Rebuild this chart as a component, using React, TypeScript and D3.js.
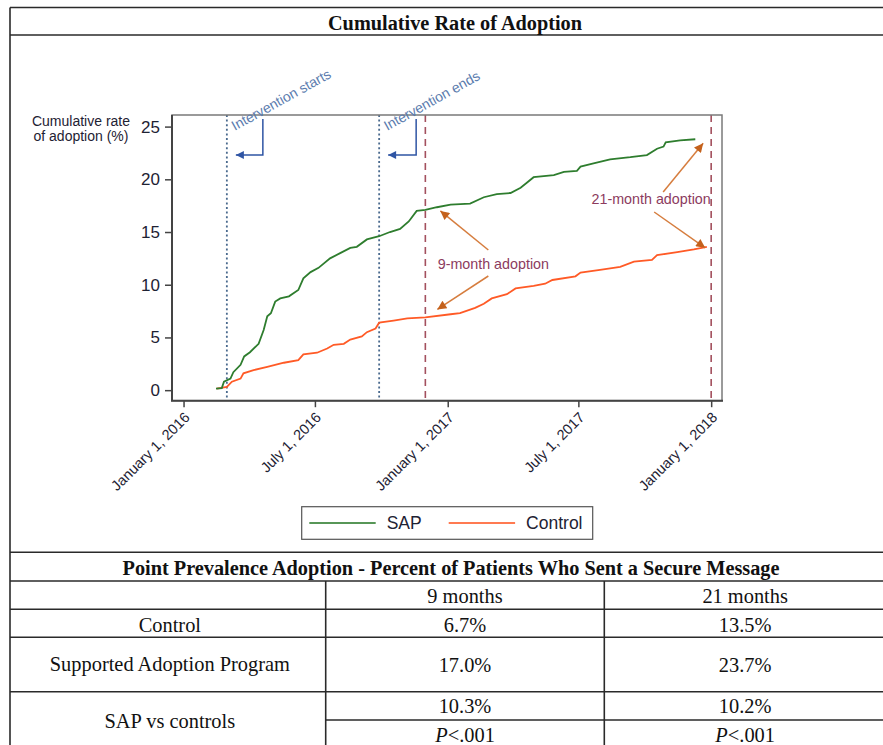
import React, { useEffect, useRef } from "react";
import * as d3 from "d3";

// cumulative adoption curves
const sapDates = [
  "2016-02-15", "2016-02-23", "2016-02-26", "2016-03-06", "2016-03-10", "2016-03-20", "2016-03-25",
  "2016-04-02", "2016-04-14", "2016-04-21", "2016-04-26", "2016-05-01", "2016-05-07", "2016-05-14",
  "2016-05-26", "2016-06-08", "2016-06-15", "2016-06-25", "2016-07-06", "2016-07-22", "2016-08-05",
  "2016-08-19", "2016-08-28", "2016-09-11", "2016-09-28", "2016-10-13", "2016-10-27", "2016-11-08",
  "2016-11-19", "2016-12-01", "2016-12-17", "2017-01-05", "2017-02-01", "2017-02-20", "2017-03-10",
  "2017-03-29", "2017-04-12", "2017-04-21", "2017-04-30", "2017-05-28", "2017-06-11", "2017-06-29",
  "2017-07-04", "2017-07-22", "2017-08-14", "2017-09-11", "2017-10-04", "2017-10-18", "2017-10-27",
  "2017-10-30", "2017-11-19", "2017-12-10",
];
const sapValues = [
  0.15, 0.2, 0.8, 1.1, 1.7, 2.4, 3.2,
  3.6, 4.4, 5.7, 7.0, 7.3, 8.4, 8.7,
  8.9, 9.5, 10.6, 11.2, 11.6, 12.5, 13.0,
  13.5, 13.6, 14.3, 14.6, 15.0, 15.3, 16.0,
  17.0, 17.1, 17.35, 17.6, 17.7, 18.3, 18.6,
  18.7, 19.2, 19.7, 20.2, 20.4, 20.7, 20.8,
  21.2, 21.5, 21.9, 22.1, 22.3, 22.9, 23.1,
  23.5, 23.7, 23.8,
];
const controlDates = [
  "2016-02-16", "2016-03-01", "2016-03-08", "2016-03-20", "2016-03-24", "2016-04-07", "2016-04-26",
  "2016-05-19", "2016-06-08", "2016-06-15", "2016-07-04", "2016-07-18", "2016-07-27", "2016-08-10",
  "2016-08-19", "2016-09-04", "2016-09-11", "2016-09-23", "2016-09-28", "2016-10-18", "2016-11-06",
  "2016-12-01", "2017-01-05", "2017-01-18", "2017-02-08", "2017-02-20", "2017-03-03", "2017-03-24",
  "2017-04-05", "2017-04-30", "2017-05-16", "2017-05-26", "2017-06-27", "2017-07-04", "2017-07-31",
  "2017-08-28", "2017-09-16", "2017-10-11", "2017-10-18", "2017-11-15", "2017-12-08", "2017-12-26",
];
const controlValues = [
  0.15, 0.3, 0.8, 1.1, 1.6, 1.9, 2.2,
  2.6, 2.85, 3.4, 3.55, 3.95, 4.3, 4.4,
  4.8, 5.1, 5.5, 5.85, 6.4, 6.6, 6.8,
  6.9, 7.2, 7.3, 7.8, 8.2, 8.7, 9.1,
  9.65, 9.9, 10.1, 10.45, 10.8, 11.15, 11.4,
  11.7, 12.2, 12.35, 12.8, 13.1, 13.35, 13.6,
];

const yTicks = [0, 5, 10, 15, 20, 25];
const xTickDates = ["2016-01-01", "2016-07-01", "2017-01-01", "2017-07-01", "2018-01-01"];
const interventionDates = ["2016-03-01", "2016-09-28"];
const interventionLabels = ["Intervention starts", "Intervention ends"];
const adoptionDates = ["2016-12-01", "2018-01-01"];
const adoptionLabels = ["9-month adoption", "21-month adoption"];
const seriesNames = ["SAP", "Control"];

// table
const tableTitle = "Point Prevalence Adoption - Percent of Patients Who Sent a Secure Message";
const tableCols = ["9 months", "21 months"];
const controlPct = ["6.7%", "13.5%"];
const sapPct = ["17.0%", "23.7%"];
const diffPct = ["10.3%", "10.2%"];
const pValues = ["<.001", "<.001"];

const SANS = "'Liberation Sans', Arial, sans-serif";
const SERIF = "'Liberation Serif', 'Times New Roman', serif";
const GREEN = "#2e7d2e";
const ORANGE = "#ff5a26";
const INK = "#1e2233";

export default function App() {
  const ref = useRef<SVGSVGElement>(null);

  useEffect(() => {
    const svg = d3.select(ref.current);
    svg.selectAll("*").remove();
    const parse = d3.timeParse("%Y-%m-%d");

    const x = d3.scaleTime()
      .domain([parse("2015-12-16")!, parse("2018-01-16")!])
      .range([172, 722]);
    const y = d3.scaleLinear().domain([-1, 26.1]).range([400.7, 115]);
    const [x0, x1] = x.range();
    const [y0, y1] = y.range();

    const defs = svg.append("defs");
    const marker = (id: string, fill: string, w: number, h: number) =>
      defs.append("marker").attr("id", id).attr("viewBox", "0 0 10 10")
        .attr("refX", 10).attr("refY", 5)
        .attr("markerWidth", w).attr("markerHeight", h)
        .attr("markerUnits", "userSpaceOnUse").attr("orient", "auto")
        .append("path").attr("d", "M0,0 L10,5 L0,10 z").attr("fill", fill);
    marker("arrBlue", "#2f55a4", 10, 8);
    marker("arrOrange", "#c4611c", 11, 9);

    // outer frame / title
    const frame = svg.append("g").attr("stroke", "#2a2a2a").attr("stroke-width", 1.6);
    frame.append("line").attr("x1", 10).attr("x2", 886).attr("y1", 7.5).attr("y2", 7.5);
    frame.append("line").attr("x1", 10).attr("x2", 886).attr("y1", 35).attr("y2", 35);
    frame.append("line").attr("x1", 10).attr("x2", 10).attr("y1", 7.5).attr("y2", 750);
    svg.append("text").attr("x", 455).attr("y", 30).attr("text-anchor", "middle")
      .attr("font-family", SERIF).attr("font-weight", "bold").attr("font-size", 20.3)
      .attr("fill", "#111").text("Cumulative Rate of Adoption");

    // reference lines
    const g = svg.append("g");
    interventionDates.forEach((d) => {
      g.append("line").attr("x1", x(parse(d)!)).attr("x2", x(parse(d)!))
        .attr("y1", y1).attr("y2", y0)
        .attr("stroke", "#4a6a8e").attr("stroke-width", 1.8).attr("stroke-dasharray", "2,2.6");
    });
    adoptionDates.forEach((d) => {
      g.append("line").attr("x1", x(parse(d)!)).attr("x2", x(parse(d)!))
        .attr("y1", y1).attr("y2", y0)
        .attr("stroke", "#a3505e").attr("stroke-width", 1.6).attr("stroke-dasharray", "7,5");
    });

    // curves
    const line = d3.line<[Date, number]>().x((d) => x(d[0])).y((d) => y(d[1]));
    const sap = sapDates.map((d, i) => [parse(d)!, sapValues[i]] as [Date, number]);
    const ctl = controlDates.map((d, i) => [parse(d)!, controlValues[i]] as [Date, number]);
    g.append("path").datum(ctl).attr("d", line).attr("fill", "none")
      .attr("stroke", ORANGE).attr("stroke-width", 1.8);
    g.append("path").datum(sap).attr("d", line).attr("fill", "none")
      .attr("stroke", GREEN).attr("stroke-width", 1.8);

    // plot frame + axes
    g.append("rect").attr("x", x0).attr("y", y1).attr("width", x1 - x0).attr("height", y0 - y1)
      .attr("fill", "none").attr("stroke", "#7a7a7a").attr("stroke-width", 1.5);

    const yAxis = g.append("g").attr("transform", `translate(${x0},0)`)
      .call(d3.axisLeft(y).tickValues(yTicks).tickSize(7).tickPadding(5));
    const xAxis = g.append("g").attr("transform", `translate(0,${y0})`)
      .call(d3.axisBottom(x).tickValues(xTickDates.map((d) => parse(d)!))
        .tickSize(6.5).tickFormat((d) => d3.timeFormat("%B %-d, %Y")(d as Date)));
    [yAxis, xAxis].forEach((a) => {
      a.select(".domain").remove();
      a.selectAll(".tick line").attr("stroke", "#444").attr("stroke-width", 1.5);
      a.selectAll("text").attr("fill", INK).attr("font-family", SANS);
    });
    yAxis.selectAll("text").attr("font-size", 17);
    xAxis.selectAll("text").attr("font-size", 14.5).attr("x", 0).attr("y", 0)
      .attr("dy", "0.35em").attr("text-anchor", "end")
      .attr("transform", "translate(3,14) rotate(-45)");
    g.append("line").attr("x1", x0).attr("x2", x0).attr("y1", y1).attr("y2", y0)
      .attr("stroke", "#444").attr("stroke-width", 2);
    g.append("line").attr("x1", x0 - 1).attr("x2", x1 + 1).attr("y1", y0).attr("y2", y0)
      .attr("stroke", "#444").attr("stroke-width", 2);

    // y axis title
    const yt = svg.append("text").attr("text-anchor", "middle").attr("font-family", SANS)
      .attr("font-size", 14).attr("fill", INK);
    yt.append("tspan").attr("x", 81).attr("y", 126).text("Cumulative rate");
    yt.append("tspan").attr("x", 81).attr("y", 140.5).text("of adoption (%)");

    // intervention annotations
    interventionDates.forEach((d, i) => {
      const xv = x(parse(d)!);
      svg.append("text").attr("transform", `translate(${xv + 8},${y1 + 16}) rotate(-29)`)
        .attr("font-family", SANS).attr("font-size", 14).attr("fill", "#5b7cae")
        .text(interventionLabels[i]);
      const vx = xv + (i === 0 ? 36 : 37);
      svg.append("path").attr("d", `M${vx},${y1 + 4} V${y1 + 40} H${xv + 9}`)
        .attr("fill", "none").attr("stroke", "#2f55a4").attr("stroke-width", 1.5)
        .attr("marker-end", "url(#arrBlue)");
    });

    // adoption annotations
    const nine = x(parse(adoptionDates[0])!);
    const twentyOne = x(parse(adoptionDates[1])!);
    const ann = svg.append("g").attr("font-family", SANS).attr("font-size", 14.3)
      .attr("fill", "#8c3b5e").attr("text-anchor", "middle");
    ann.append("text").attr("x", nine + 68).attr("y", 269).text(adoptionLabels[0]);
    ann.append("text").attr("x", twentyOne - 60).attr("y", 204).text(adoptionLabels[1]);
    const arrows: [number, number, number, number][] = [
      [nine + 63, 250, nine + 15, y(sapValues[29]) + 1],
      [nine + 63, 276, nine + 12, y(controlValues[21]) - 8],
      [twentyOne - 48, 192, twentyOne - 8, y(sapValues[50]) + 3],
      [twentyOne - 57, 212, twentyOne - 6, y(controlValues[41]) + 1],
    ];
    arrows.forEach(([ax, ay, bx, by]) => {
      svg.append("line").attr("x1", ax).attr("y1", ay).attr("x2", bx).attr("y2", by)
        .attr("stroke", "#d67d3e").attr("stroke-width", 1.5)
        .attr("marker-end", "url(#arrOrange)");
    });

    // legend
    const lg = svg.append("g");
    lg.append("rect").attr("x", 301.7).attr("y", 506.7).attr("width", 291).attr("height", 32.6)
      .attr("fill", "#fff").attr("stroke", "#555").attr("stroke-width", 1.2);
    [GREEN, ORANGE].forEach((c, i) => {
      const lx = 309.3 + i * 139.4;
      lg.append("line").attr("x1", lx).attr("x2", lx + 66.4).attr("y1", 523).attr("y2", 523)
        .attr("stroke", c).attr("stroke-width", 2).attr("opacity", 0.8);
      lg.append("text").attr("x", lx + 77.4).attr("y", 523).attr("dy", "0.35em")
        .attr("font-family", SANS).attr("font-size", 17.5).attr("fill", INK).text(seriesNames[i]);
    });

    // table
    const rows = [552.3, 581, 609.3, 637.3, 691.7, 720, 750];
    const cols = [10, 325.7, 604.3, 886];
    const t = svg.append("g");
    const tl = t.append("g").attr("stroke", "#2a2a2a").attr("stroke-width", 1.6);
    rows.forEach((r, i) => {
      if (i === 5) tl.append("line").attr("x1", cols[1]).attr("x2", cols[3]).attr("y1", r).attr("y2", r);
      else if (i < 6) tl.append("line").attr("x1", cols[0]).attr("x2", cols[3]).attr("y1", r).attr("y2", r);
    });
    [cols[1], cols[2]].forEach((c) => {
      tl.append("line").attr("x1", c).attr("x2", c).attr("y1", rows[1]).attr("y2", rows[6]);
    });
    const cell = (cx: number, by: number, s: string, bold = false) =>
      t.append("text").attr("x", cx).attr("y", by).attr("text-anchor", "middle")
        .attr("font-family", SERIF).attr("font-size", bold ? 20.3 : 20.4).attr("fill", "#111")
        .attr("font-weight", bold ? "bold" : "normal").text(s);
    cell((cols[0] + cols[3]) / 2 + 3, 575, tableTitle, true);
    const mid = (a: number, b: number) => (a + b) / 2;
    const c1 = mid(cols[0], cols[1]) + 2;
    const cs = [mid(cols[1], cols[2]), mid(cols[2], cols[3])];
    cell(c1, 632, "Control");
    cell(c1, 671, "Supported Adoption Program");
    cell(c1, 728, "SAP vs controls");
    cs.forEach((cx, i) => {
      cell(cx, 603, tableCols[i]);
      cell(cx, 632, controlPct[i]);
      cell(cx, 671.5, sapPct[i]);
      cell(cx, 713, diffPct[i]);
      const p = cell(cx, 741.5, "");
      p.append("tspan").attr("font-style", "italic").text("P");
      p.append("tspan").text(pValues[i]);
    });
  }, []);

  return (
    <svg ref={ref} width={883} height={745}
      style={{ position: "absolute", left: 0, top: 0, background: "#fff" }} />
  );
}
